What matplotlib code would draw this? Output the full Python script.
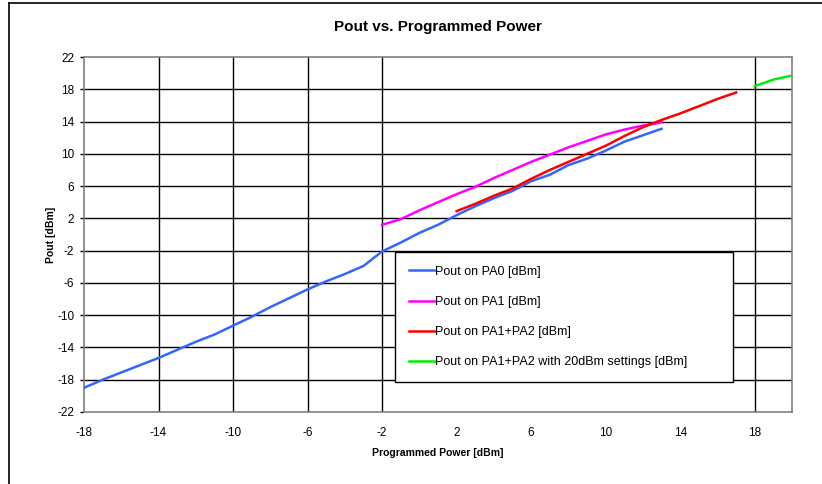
import matplotlib
matplotlib.use("Agg")
import matplotlib.pyplot as plt
from matplotlib.lines import Line2D

plt.rcParams['font.family'] = ['Liberation Sans', 'DejaVu Sans']
plt.rcParams['axes.unicode_minus'] = False

pa0_x = list(range(-18, 14))
pa0_y = [-19.0, -18.0, -17.1, -16.2, -15.3, -14.3, -13.3, -12.4, -11.3, -10.2,
         -9.0, -7.9, -6.8, -5.8, -4.9, -3.9, -2.1, -1.0, 0.2, 1.2,
         2.4, 3.5, 4.5, 5.4, 6.6, 7.4, 8.6, 9.4, 10.4, 11.5,
         12.3, 13.1]

pa1_x = list(range(-2, 14))
pa1_y = [1.2, 1.9, 3.0, 4.0, 5.0, 5.9, 7.0, 8.0, 9.0, 9.9,
         10.8, 11.6, 12.4, 13.0, 13.5, 13.9]

pa12_x = list(range(2, 18))
pa12_y = [2.9, 3.8, 4.8, 5.7, 6.9, 8.0, 9.0, 10.0, 11.0, 12.2,
          13.3, 14.2, 15.0, 15.9, 16.8, 17.6]

pa12_20_x = [18, 19, 20]
pa12_20_y = [18.4, 19.2, 19.7]

x_ticks = [-18, -14, -10, -6, -2, 2, 6, 10, 14, 18]
x_grid = [-14, -10, -6, -2, 18]
y_ticks = list(range(-22, 23, 4))

fig = plt.figure(figsize=(8.22, 4.84), dpi=100)
ax = fig.add_axes([84 / 822, 1 - 412 / 484, 708 / 822, 355 / 484])

ax.plot(pa0_x, pa0_y, color="#3366ff", lw=1.8, label="Pout on PA0 [dBm]", zorder=3)
ax.plot(pa1_x, pa1_y, color="#ff00ff", lw=1.8, label="Pout on PA1 [dBm]", zorder=3)
ax.plot(pa12_x, pa12_y, color="#ff0000", lw=1.8, label="Pout on PA1+PA2 [dBm]", zorder=3)
ax.plot(pa12_20_x, pa12_20_y, color="#00ee00", lw=1.8,
        label="Pout on PA1+PA2 with 20dBm settings [dBm]", zorder=3)

for y in y_ticks[1:-1]:
    ax.axhline(y, color="black", lw=1.0, zorder=1)
for x in x_grid:
    ax.axvline(x, color="black", lw=1.0, zorder=1)

ax.set_xlim(-18, 20)
ax.set_ylim(-22, 22)
ax.set_xticks(x_ticks)
ax.set_yticks(y_ticks)
ax.tick_params(axis="x", length=0, pad=11, labelsize=8.5)
ax.tick_params(axis="y", length=3, width=1, color="black", pad=4, labelsize=8.5)
for s in ax.spines.values():
    s.set_color("#808080")
    s.set_linewidth(1.2)

ax.set_xlabel("Programmed Power [dBm]", fontsize=7.5, fontweight="bold", labelpad=6)
ax.set_ylabel("Pout [dBm]", fontsize=7.5, fontweight="bold", labelpad=1)
ax.set_title("Pout vs. Programmed Power", fontsize=11, fontweight="bold", pad=19)

leg = ax.legend(loc="upper left", bbox_to_anchor=(0.439, 0.0873, 0.478, 0.3634),
                mode="expand", fancybox=False, edgecolor="black", framealpha=1,
                fontsize=9, handlelength=2.1, handletextpad=0.0,
                labelspacing=1.45, borderpad=1.1, borderaxespad=0)
leg.get_frame().set_linewidth(1.0)
leg.set_zorder(5)

# outer frame of the chart area
fig.add_artist(Line2D([9 / 822, 9 / 822], [0, 1 - 3 / 484], color="black", lw=1.2))
fig.add_artist(Line2D([9 / 822, 1], [1 - 3 / 484, 1 - 3 / 484], color="black", lw=1.2))

fig.savefig("out.png", dpi=100)
